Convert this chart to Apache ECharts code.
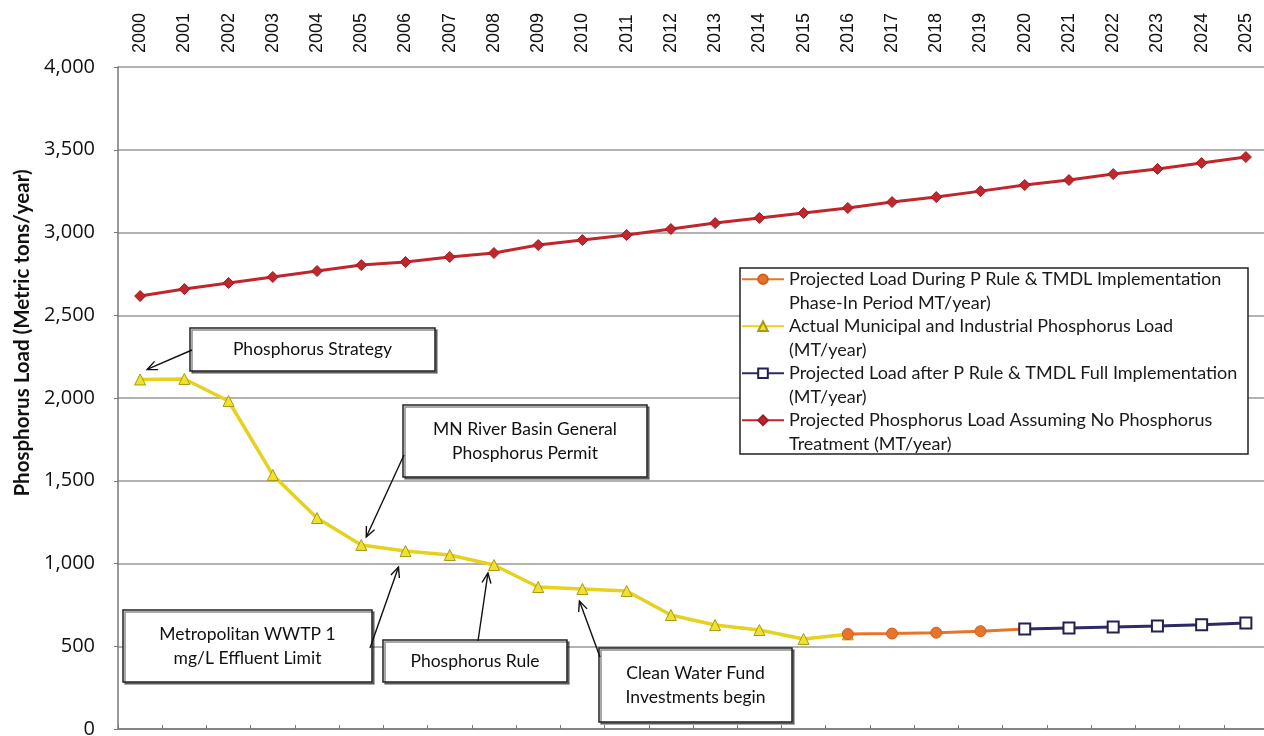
<!DOCTYPE html>
<html>
<head>
<meta charset="utf-8">
<script src="https://cdn.jsdelivr.net/npm/echarts@6/dist/echarts.min.js"></script>
<style>
html, body { margin: 0; padding: 0; background: #fff; }
#chart { width: 1264px; height: 736px; }
</style>
</head>
<body>
<div id="chart"></div>
<script>
// years along the top axis
const years = ['2000','2001','2002','2003','2004','2005','2006','2007','2008','2009','2010','2011','2012',
  '2013','2014','2015','2016','2017','2018','2019','2020','2021','2022','2023','2024','2025']

// MT/year
const noTreatment = [2616, 2658, 2695, 2731, 2767, 2803, 2822, 2852, 2876, 2924, 2954, 2985, 3021,
  3057, 3088, 3118, 3148, 3184, 3214, 3250, 3287, 3317, 3353, 3384, 3420, 3456]
const actualLoad = [2112, 2115, 1982, 1535, 1275, 1112, 1075, 1051, 991, 858, 846, 834, 689,
  628, 598, 544, 572, null, null, null, null, null, null, null, null, null]
const phaseIn = [null, null, null, null, null, null, null, null, null, null, null, null, null,
  null, null, null, 574, 577, 582, 591, 604, null, null, null, null, null]
const fullImpl = [null, null, null, null, null, null, null, null, null, null, null, null, null,
  null, null, null, null, null, null, null, 604, 610, 616, 622, 630, 640]

const yTitle = 'Phosphorus Load (Metric tons/year)'

const seriesNames = [
  'Projected Load During P Rule & TMDL Implementation Phase-In Period MT/year)',
  'Actual Municipal and Industrial Phosphorus Load (MT/year)',
  'Projected Load after P Rule & TMDL Full Implementation (MT/year)',
  'Projected Phosphorus Load Assuming No Phosphorus Treatment (MT/year)'
]
const legendLabels = [
  ['Projected Load During P Rule & TMDL Implementation', 'Phase-In Period MT/year)'],
  ['Actual Municipal and Industrial Phosphorus Load', '(MT/year)'],
  ['Projected Load after P Rule & TMDL Full Implementation', '(MT/year)'],
  ['Projected Phosphorus Load Assuming No Phosphorus', 'Treatment (MT/year)']
]

// callout boxes: text, box, where the arrow leaves the box, which point it aims at
const notes = [
  { text: 'Phosphorus Strategy', box: [190, 328, 245, 43], from: [192, 350], at: [0, 2112], off: [7, -10] },
  { text: 'MN River Basin General\nPhosphorus Permit', box: [403, 405, 244, 72], from: [404, 455], at: [5, 1112], off: [5, -8] },
  { text: 'Metropolitan WWTP 1\nmg/L Effluent Limit', box: [123, 610, 249, 72], from: [370, 648], at: [6, 1075], off: [-7, 16] },
  { text: 'Phosphorus Rule', box: [383, 640, 184, 42], from: [478, 641], at: [8, 991], off: [-6, 8] },
  { text: 'Clean Water Fund\nInvestments begin', box: [599, 648, 193, 74], from: [600, 657], at: [10, 846], off: [-3, 12] }
]

const chart = echarts.init(document.getElementById('chart'))

chart.setOption({
  animation: false,
  grid: { left: 118, top: 67, width: 1150, height: 662, outerBoundsMode: 'none' },
  legend: {
    orient: 'vertical',
    left: 741,
    top: 244,
    padding: 0,
    itemGap: -23.5,
    itemWidth: 42,
    itemHeight: 12,
    data: [seriesNames[0], seriesNames[1], seriesNames[2], seriesNames[3]],
    // blank first line keeps the icon level with the first text line
    formatter: name => ' \n' + legendLabels[seriesNames.indexOf(name)].join('\n'),
    textStyle: { fontFamily: 'Lato', fontSize: 18, color: '#1a1a1a', lineHeight: 23.5 }
  },
  xAxis: {
    type: 'category',
    position: 'top',
    data: years,
    boundaryGap: true,
    axisLine: { lineStyle: { color: '#777', width: 1.5 } },
    axisTick: { show: true, length: 4, lineStyle: { color: '#777' } },
    axisLabel: { rotate: 90, fontFamily: 'Liberation Sans', fontSize: 18, color: '#111', margin: 14 },
    splitLine: { show: false }
  },
  yAxis: {
    type: 'value',
    min: 0,
    max: 4000,
    interval: 500,
    axisLine: { show: true, lineStyle: { color: '#777', width: 1.5 } },
    axisTick: { show: true, length: 4, lineStyle: { color: '#777' } },
    axisLabel: {
      fontFamily: 'Open Sans', fontSize: 20, color: '#111', margin: 23,
      formatter: v => v.toLocaleString('en-US')
    },
    splitLine: { lineStyle: { color: '#999', width: 1.5 } }
  },
  series: [
    {
      name: seriesNames[3],
      type: 'line',
      data: noTreatment,
      symbol: 'diamond',
      symbolSize: 11,
      lineStyle: { color: '#c0262c', width: 3 },
      itemStyle: { color: '#c0262c', borderColor: '#9e1c22', borderWidth: 1 }
    },
    {
      name: seriesNames[1],
      type: 'line',
      data: actualLoad,
      symbol: 'triangle',
      symbolSize: 11,
      lineStyle: { color: '#e6d21e', width: 3.5 },
      itemStyle: { color: '#f0e030', borderColor: '#a89a10', borderWidth: 1 }
    },
    {
      name: seriesNames[0],
      type: 'line',
      data: phaseIn,
      symbol: 'circle',
      symbolSize: 11,
      lineStyle: { color: '#e8742c', width: 3 },
      itemStyle: { color: '#e8742c', borderColor: '#d05f1c', borderWidth: 1 }
    },
    {
      name: seriesNames[2],
      type: 'line',
      data: fullImpl,
      symbol: 'rect',
      symbolSize: 11,
      lineStyle: { color: '#2e2a66', width: 3 },
      itemStyle: { color: '#fff', borderColor: '#24204f', borderWidth: 2 }
    }
  ]
})

// callouts drawn once the scales are known, so the arrows end at the data
const graphics = []
notes.forEach(n => {
  const [bx, by, bw, bh] = n.box
  graphics.push({
    type: 'rect', z: 100,
    shape: { x: bx, y: by, width: bw, height: bh },
    style: { fill: '#fff', stroke: '#222', lineWidth: 1.5, shadowColor: 'rgba(0,0,0,0.45)', shadowOffsetX: 2, shadowOffsetY: 2 }
  })
  graphics.push({
    type: 'text', z: 101,
    style: {
      text: n.text, x: bx + bw / 2, y: by + bh / 2, align: 'center', verticalAlign: 'middle',
      fontFamily: 'Lato', fontSize: 17.5, lineHeight: 24, fill: '#111'
    }
  })
  const p = chart.convertToPixel({ gridIndex: 0 }, n.at)
  const tip = [p[0] + n.off[0], p[1] + n.off[1]]
  const ang = Math.atan2(tip[1] - n.from[1], tip[0] - n.from[0])
  const len = 11, spread = 0.42
  graphics.push({
    type: 'line', z: 101,
    shape: { x1: n.from[0], y1: n.from[1], x2: tip[0], y2: tip[1] },
    style: { stroke: '#111', lineWidth: 1.4 }
  })
  graphics.push({
    type: 'polyline', z: 101,
    shape: {
      points: [
        [tip[0] - len * Math.cos(ang - spread), tip[1] - len * Math.sin(ang - spread)],
        tip,
        [tip[0] - len * Math.cos(ang + spread), tip[1] - len * Math.sin(ang + spread)]
      ]
    },
    style: { stroke: '#111', lineWidth: 1.4, fill: null }
  })
})
// legend frame
graphics.push({
  type: 'rect', z: 1,
  shape: { x: 740, y: 268, width: 508, height: 186 },
  style: { fill: '#fff', stroke: '#222', lineWidth: 1.5 }
})
// y title sits above the axis middle in the original
graphics.push({
  type: 'text', z: 10,
  x: 22, y: 333, rotation: Math.PI / 2,
  style: {
    text: yTitle, align: 'center', verticalAlign: 'middle',
    fontFamily: 'Lato', fontWeight: 'bold', fontSize: 20.5, fill: '#111'
  }
})

chart.setOption({ graphic: graphics })
</script>
</body>
</html>
